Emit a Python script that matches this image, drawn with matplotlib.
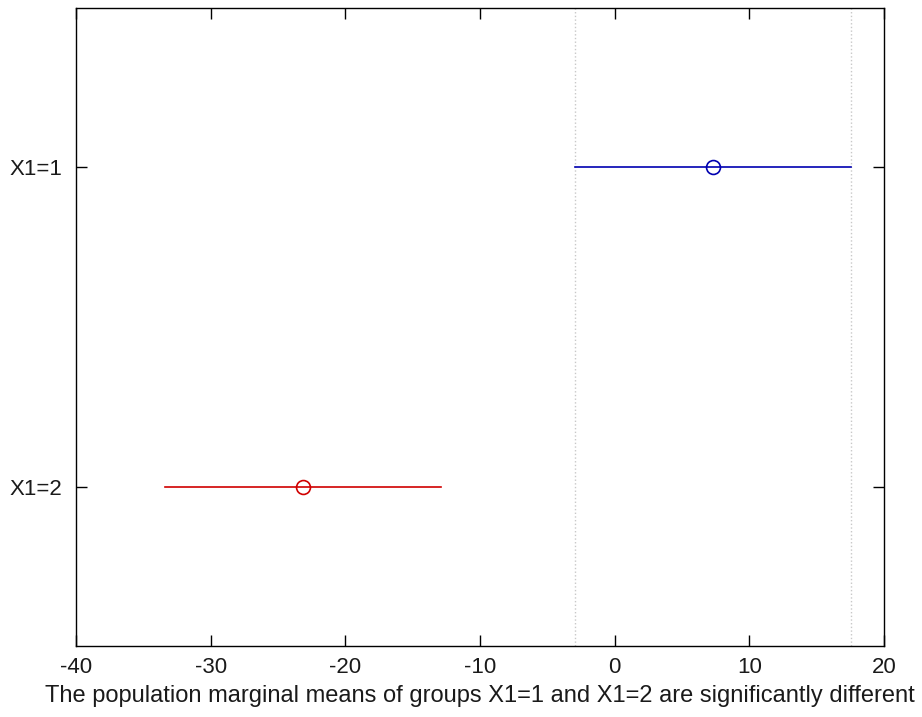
import numpy as np
import matplotlib.pyplot as plt

plt.rcParams['font.family'] = ['Liberation Sans', 'DejaVu Sans']
plt.rcParams['axes.unicode_minus'] = False

# group labels, estimated marginal means and comparison interval half-widths
groups = ['X1=1', 'X1=2']
means = [7.3, -23.15]
half_widths = [10.27, 10.25]
colors = ['#0000b0', '#d00000']
xlabel = 'The population marginal means of groups X1=1 and X1=2 are significantly different'

fig = plt.figure(figsize=(9.22, 7.17), dpi=100)
ax = fig.add_axes([0.0824, 0.099, 0.8764, 0.8899])

ypos = np.arange(1, len(groups) + 1)
lo = np.array(means) - np.array(half_widths)
hi = np.array(means) + np.array(half_widths)

# dotted guides at the bounds of the first group's interval
for xv in (lo[0], hi[0]):
    ax.axvline(xv, color='#c8c8c8', linestyle=':', linewidth=1, zorder=1)

for y, m, l, h, c in zip(ypos, means, lo, hi, colors):
    ax.plot([l, h], [y, y], color=c, linewidth=1.2, zorder=2)
    ax.plot(m, y, marker='o', markersize=10, markerfacecolor='none',
            markeredgecolor=c, markeredgewidth=1.2, zorder=3)

ax.set_xlim(-40, 20)
ax.set_ylim(2.5, 0.5)
ax.set_xticks(np.arange(-40, 21, 10))
ax.set_yticks(ypos)
ax.set_yticklabels(groups)
ax.tick_params(direction='in', length=8, width=1, top=True, right=True,
               labelsize=16, labelcolor='#1a1a1a')
ax.tick_params(axis='y', pad=10)
ax.tick_params(axis='x', pad=8)
for sp in ax.spines.values():
    sp.set_linewidth(1)
ax.set_xlabel(xlabel, fontsize=17, color='#1a1a1a', labelpad=5)

fig.savefig('out.png', dpi=100)
